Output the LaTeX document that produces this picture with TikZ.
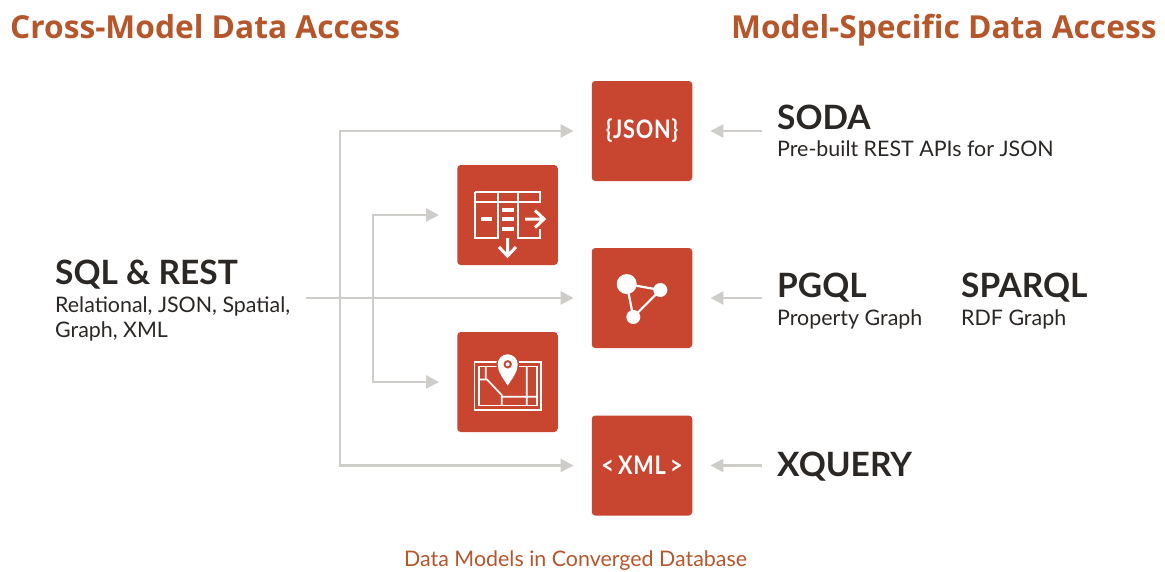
\documentclass[tikz,border=0pt]{standalone}
\usepackage{fontspec}
\setmainfont{Lato}
\newfontfamily\headfont{Open Sans}
\newfontfamily\iconfont[LetterSpace=3,FakeStretch=0.85]{Lato}
\usetikzlibrary{arrows.meta}
\definecolor{brick}{HTML}{C84630}
\definecolor{headcol}{HTML}{B5562B}
\definecolor{linecol}{HTML}{CFCDCA}
\definecolor{inkcol}{HTML}{2A2725}
\tikzset{
  x=1pt,y=-1pt,
  tilebox/.style={fill=brick,draw=none,rounded corners=3.5pt,minimum width=100.5pt,minimum height=100pt,inner sep=0pt,text=white},
  flow/.style={draw=linecol,line width=2.5pt,-{Triangle[length=13pt,width=13pt]},shorten >=18pt},
  heading/.style={anchor=base west,inner sep=0pt,text=headcol,font=\headfont\fontsize{31.7}{33}\selectfont\bfseries},
  caption/.style={anchor=base west,inner sep=0pt,text=headcol,font=\fontsize{21.4}{23}\selectfont},
  apiname/.style={anchor=base west,inner sep=0pt,text=inkcol,font=\fontsize{33.5}{35}\selectfont\bfseries},
  apidesc/.style={anchor=base west,inner sep=0pt,text=inkcol,font=\fontsize{21.4}{23}\selectfont},
  iconline/.style={draw=white,line width=2.2pt},
  iconbold/.style={draw=white,line width=3.5pt},
  icontext/.style={font=\iconfont\fontsize{25.5}{27}\selectfont\bfseries},
}
\begin{document}
\begin{tikzpicture}
\useasboundingbox (0,0) rectangle (1165,571);
\fill[white] (0,0) rectangle (1165,571);
% tiles
\node[tilebox,icontext] (json) at (642,131) {\{JSON\}};
\node[tilebox] (table) at (507.5,215) {};
\node[tilebox] (graph) at (642,298) {};
\node[tilebox] (map) at (507.5,382) {};
\node[tilebox,icontext] (xml) at (642,465.5) {<\,XML\,>};
% texts
\node[heading] (h1) at (10,38) {Cross-Model Data Access};
\node[heading] (h2) at (731,38) {Model-Specific Data Access};
\node[caption] (cap) at (404,566) {Data Models in Converged Database};
\node[apiname] (sql) at (55,284) {SQL \& REST};
\node[apidesc] (sqla) at (55,312) {Relational, JSON, Spatial,};
\node[apidesc] (sqlb) at (55,337) {Graph, XML};
\node[apiname] (soda) at (777,129) {SODA};
\node[apidesc] (sodad) at (777,156) {Pre-built REST APIs for JSON};
\node[apiname] (pgql) at (777,297) {PGQL};
\node[apidesc] (pgqld) at (777,325) {Property Graph};
\node[apiname] (sparql) at (961,297) {SPARQL};
\node[apidesc] (sparqld) at (961,325) {RDF Graph};
\node[apiname] (xq) at (777,476) {XQUERY};
% connector anchors
\coordinate (src) at (306,298);
\coordinate (outer) at (340,298);
\coordinate (inner) at (373,298);
\coordinate (rj) at (762,131);
\coordinate (rg) at (762,298);
\coordinate (rx) at (762,465.5);
% connectors
\draw[flow] (src) -- (graph);
\draw[flow] (outer) |- (json);
\draw[flow] (outer) |- (xml);
\draw[flow] (inner) |- (table);
\draw[flow] (inner) |- (map);
\draw[flow] (rj) -- (json);
\draw[flow] (rg) -- (graph);
\draw[flow] (rx) -- (xml);
% table icon
\draw[iconline] (475,192) -- (540,192) -- (540,202) -- (475,202);
\draw[iconline] (475,192) -- (475,238) -- (498,238) -- (498,192);
\draw[iconline] (518,192) -- (518,238) -- (540,238) -- (540,229);
\draw[iconbold] (481,219) -- (492,219);
\draw[iconbold] (502,210) -- (514,210) (502,219) -- (514,219) (502,229) -- (514,229);
\draw[iconline,line width=3pt] (525,219) -- (543,219) (535,210.5) -- (544,219) -- (535,227.5);
\draw[iconline,line width=3pt] (507.5,238) -- (507.5,256) (499,247) -- (507.5,256) -- (516,247);
% graph icon
\draw[iconline] (626.7,284) -- (660.3,290) -- (633.3,317) -- cycle;
\fill[white] (626.7,284) circle (10) (660.3,290) circle (7) (633.3,317) circle (7);
% map icon
\draw[iconline,line width=1.7pt] (474.5,362) rectangle (541,410) (479,366.5) rectangle (537,405.5);
\draw[iconline,line width=1.7pt] (485.7,366) -- (485.7,379) (479,379.5) -- (487,379.5) -- (501.7,395) -- (501.7,405.5) (501.7,396.7) -- (537,396.7) (526.7,366) -- (526.7,405.5);
\path[fill=white,draw=brick,line width=3pt] (507.7,385.7) .. controls (503,378) and (497.7,372) .. (497.7,364.3) arc[start angle=180,end angle=360,radius=10] .. controls (517.7,372) and (512.4,378) .. (507.7,385.7) -- cycle;
\fill[white] (507.7,385.7) .. controls (503,378) and (497.7,372) .. (497.7,364.3) arc[start angle=180,end angle=360,radius=10] .. controls (517.7,372) and (512.4,378) .. (507.7,385.7) -- cycle;
\fill[brick] (507.7,364.3) circle (4.2);
\fill[white] (507.7,364.3) circle (2);
\end{tikzpicture}
\end{document}
